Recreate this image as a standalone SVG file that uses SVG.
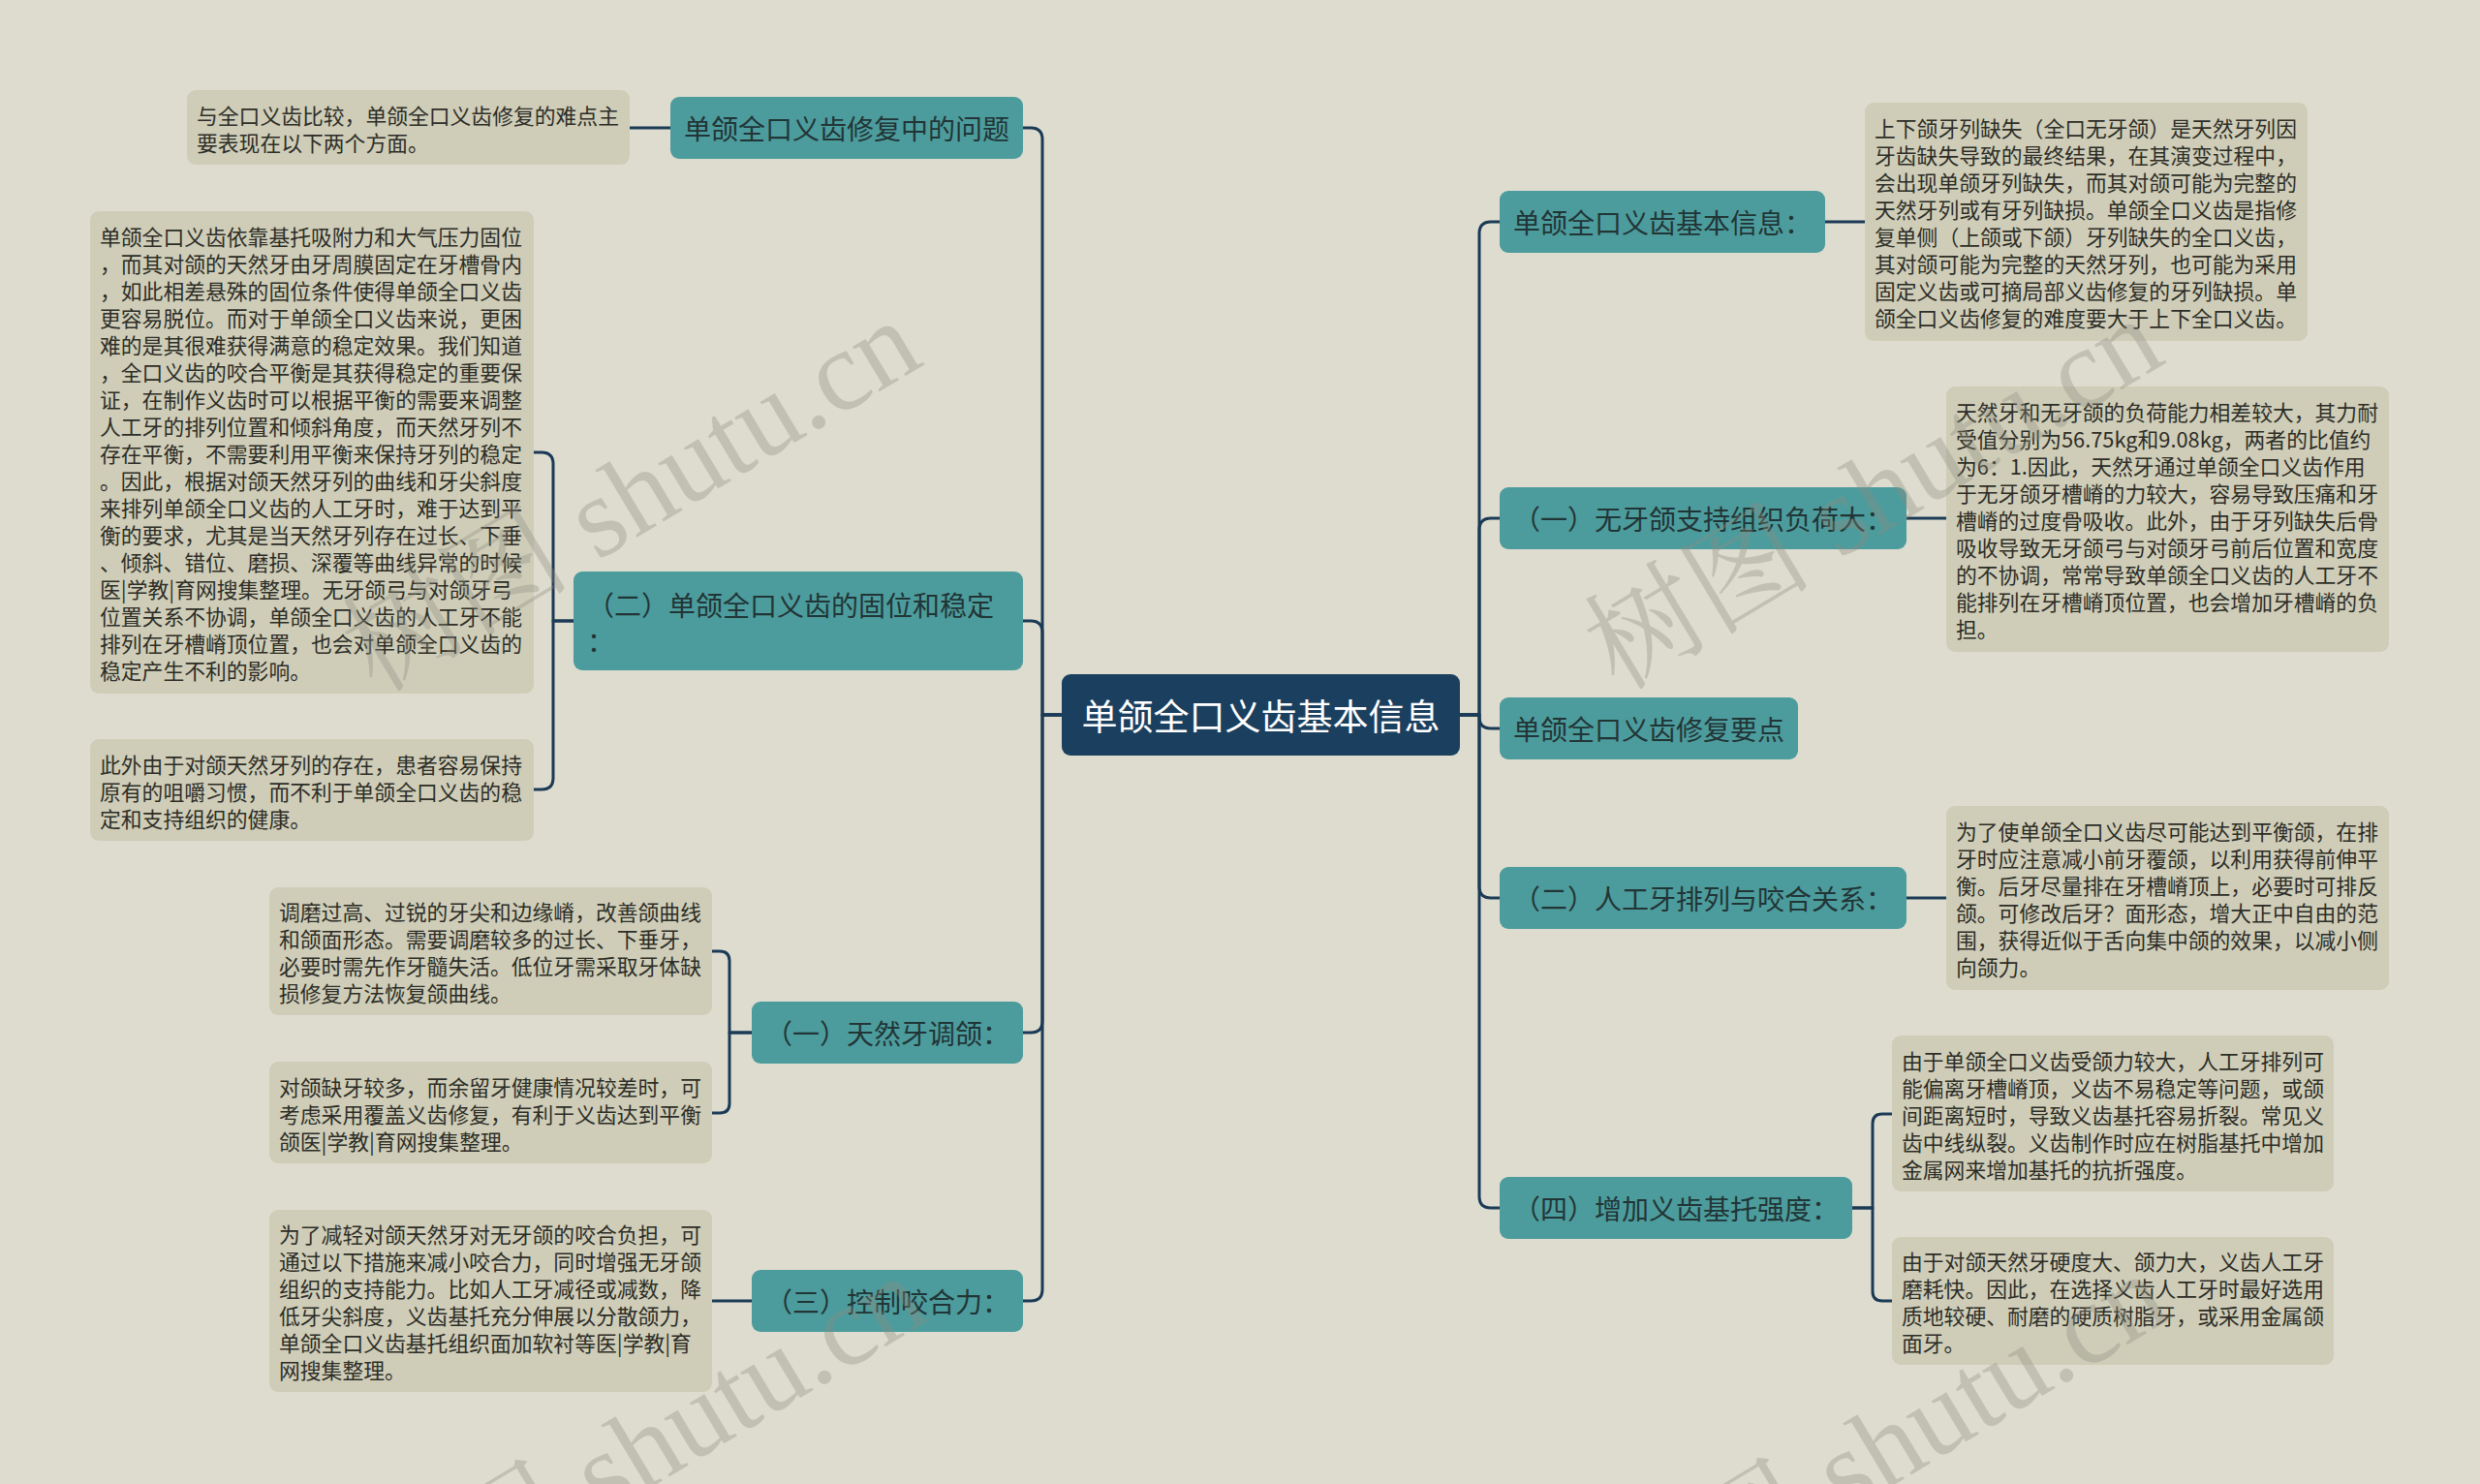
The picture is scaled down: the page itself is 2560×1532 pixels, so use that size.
<svg xmlns="http://www.w3.org/2000/svg" width="2560" height="1532" viewBox="0 0 2560 1532">
<style>
.bg{fill:#dedccf}
.box{fill:#cfcdb8}
.node{fill:#4d9c9d}
.center{fill:#1b405f}
.conn{fill:none;stroke:#1b3a56;stroke-width:3;stroke-linecap:round;stroke-linejoin:round}
.d{font-family:"Noto Sans CJK SC","Noto Sans",sans-serif;font-size:21.8px;fill:#2d2d27;dominant-baseline:central}
.n{font-family:"Noto Sans CJK SC","Noto Sans",sans-serif;font-size:28px;fill:#213536;dominant-baseline:central;text-anchor:middle}
.nl{font-family:"Noto Sans CJK SC","Noto Sans",sans-serif;font-size:28px;fill:#213536;dominant-baseline:central}
.c{font-family:"Noto Sans CJK SC","Noto Sans",sans-serif;font-size:37px;fill:#ffffff;dominant-baseline:central;text-anchor:middle}
.wm{font-family:"Liberation Serif","Noto Serif CJK SC","Noto Sans CJK SC",serif;font-size:118px;fill:#8c8b7e;fill-opacity:0.35;dominant-baseline:central;text-anchor:middle}
</style>
<rect class="bg" x="0" y="0" width="2560" height="1532"/>

<g id="connectors">
<path class="conn" d="M1096,738 H1076 V144 Q1076,132 1064,132 H1056"/>
<path class="conn" d="M1096,738 H1076 V653 Q1076,641 1064,641 H1056"/>
<path class="conn" d="M1096,738 H1076 V1054 Q1076,1066 1064,1066 H1056"/>
<path class="conn" d="M1096,738 H1076 V1331 Q1076,1343 1064,1343 H1056"/>
<path class="conn" d="M1507,738 H1527 V241 Q1527,229 1539,229 H1548"/>
<path class="conn" d="M1507,738 H1527 V547 Q1527,535 1539,535 H1548"/>
<path class="conn" d="M1507,738 H1527 V740 Q1527,752 1539,752 H1548"/>
<path class="conn" d="M1507,738 H1527 V915 Q1527,927 1539,927 H1548"/>
<path class="conn" d="M1507,738 H1527 V1235 Q1527,1247 1539,1247 H1548"/>
<path class="conn" d="M692,132 H650"/>
<path class="conn" d="M592,641 H571 V479 Q571,467 559,467 H551"/>
<path class="conn" d="M592,641 H571 V803 Q571,815 559,815 H551"/>
<path class="conn" d="M776,1066 H753 V992 Q753,982 743,982 H735"/>
<path class="conn" d="M776,1066 H753 V1139 Q753,1149 743,1149 H735"/>
<path class="conn" d="M776,1343 H735"/>
<path class="conn" d="M1884,229 H1925"/>
<path class="conn" d="M1968,535 H2009"/>
<path class="conn" d="M1968,927 H2009"/>
<path class="conn" d="M1912,1247 H1933 V1160 Q1933,1150 1943,1150 H1953"/>
<path class="conn" d="M1912,1247 H1933 V1333 Q1933,1343 1943,1343 H1953"/>
</g>

<g id="root">
<rect class="center" x="1096" y="696" width="411" height="84" rx="9"/>
<text class="c" x="1301.5" y="738">单颌全口义齿基本信息</text>
</g>

<g id="n-problem">
<rect class="node" x="692" y="100" width="364" height="64" rx="9"/>
<text class="n" x="874" y="132">单颌全口义齿修复中的问题</text>
</g>
<g id="d-problem">
<rect class="box" x="193" y="93" width="457" height="77" rx="9"/>
<text class="d"><tspan x="203" y="117.5">与全口义齿比较，单颌全口义齿修复的难点主</tspan><tspan x="203" y="145.5">要表现在以下两个方面。</tspan></text>
</g>

<g id="n-stable">
<rect class="node" x="592" y="590" width="464" height="102" rx="9"/>
<text class="nl"><tspan x="606" y="624">（二）单颌全口义齿的固位和稳定</tspan><tspan x="606" y="661">：</tspan></text>
</g>
<g id="d-stable-1">
<rect class="box" x="93" y="218" width="458" height="498" rx="9"/>
<text class="d"><tspan x="103" y="243">单颌全口义齿依靠基托吸附力和大气压力固位</tspan><tspan x="103" y="271">，而其对颌的天然牙由牙周膜固定在牙槽骨内</tspan><tspan x="103" y="299">，如此相差悬殊的固位条件使得单颌全口义齿</tspan><tspan x="103" y="327">更容易脱位。而对于单颌全口义齿来说，更困</tspan><tspan x="103" y="355">难的是其很难获得满意的稳定效果。我们知道</tspan><tspan x="103" y="383">，全口义齿的咬合平衡是其获得稳定的重要保</tspan><tspan x="103" y="411">证，在制作义齿时可以根据平衡的需要来调整</tspan><tspan x="103" y="439">人工牙的排列位置和倾斜角度，而天然牙列不</tspan><tspan x="103" y="467">存在平衡，不需要利用平衡来保持牙列的稳定</tspan><tspan x="103" y="495">。因此，根据对颌天然牙列的曲线和牙尖斜度</tspan><tspan x="103" y="523">来排列单颌全口义齿的人工牙时，难于达到平</tspan><tspan x="103" y="551">衡的要求，尤其是当天然牙列存在过长、下垂</tspan><tspan x="103" y="579">、倾斜、错位、磨损、深覆等曲线异常的时候</tspan><tspan x="103" y="607">医|学教|育网搜集整理。无牙颌弓与对颌牙弓</tspan><tspan x="103" y="635">位置关系不协调，单颌全口义齿的人工牙不能</tspan><tspan x="103" y="663">排列在牙槽嵴顶位置，也会对单颌全口义齿的</tspan><tspan x="103" y="691">稳定产生不利的影响。</tspan></text>
</g>
<g id="d-stable-2">
<rect class="box" x="93" y="763" width="458" height="105" rx="9"/>
<text class="d"><tspan x="103" y="787.5">此外由于对颌天然牙列的存在，患者容易保持</tspan><tspan x="103" y="815.5">原有的咀嚼习惯，而不利于单颌全口义齿的稳</tspan><tspan x="103" y="843.5">定和支持组织的健康。</tspan></text>
</g>

<g id="n-natural">
<rect class="node" x="776" y="1034" width="280" height="64" rx="9"/>
<text class="n" x="916" y="1066">（一）天然牙调颌：</text>
</g>
<g id="d-natural-1">
<rect class="box" x="278" y="916" width="457" height="132" rx="9"/>
<text class="d"><tspan x="288" y="940">调磨过高、过锐的牙尖和边缘嵴，改善颌曲线</tspan><tspan x="288" y="968">和颌面形态。需要调磨较多的过长、下垂牙，</tspan><tspan x="288" y="996">必要时需先作牙髓失活。低位牙需采取牙体缺</tspan><tspan x="288" y="1024">损修复方法恢复颌曲线。</tspan></text>
</g>
<g id="d-natural-2">
<rect class="box" x="278" y="1096" width="457" height="105" rx="9"/>
<text class="d"><tspan x="288" y="1120.5">对颌缺牙较多，而余留牙健康情况较差时，可</tspan><tspan x="288" y="1148.5">考虑采用覆盖义齿修复，有利于义齿达到平衡</tspan><tspan x="288" y="1176.5">颌医|学教|育网搜集整理。</tspan></text>
</g>

<g id="n-force">
<rect class="node" x="776" y="1311" width="280" height="64" rx="9"/>
<text class="n" x="916" y="1343">（三）控制咬合力：</text>
</g>
<g id="d-force">
<rect class="box" x="278" y="1249" width="457" height="188" rx="9"/>
<text class="d"><tspan x="288" y="1273">为了减轻对颌天然牙对无牙颌的咬合负担，可</tspan><tspan x="288" y="1301">通过以下措施来减小咬合力，同时增强无牙颌</tspan><tspan x="288" y="1329">组织的支持能力。比如人工牙减径或减数，降</tspan><tspan x="288" y="1357">低牙尖斜度，义齿基托充分伸展以分散颌力，</tspan><tspan x="288" y="1385">单颌全口义齿基托组织面加软衬等医|学教|育</tspan><tspan x="288" y="1413">网搜集整理。</tspan></text>
</g>

<g id="n-basic">
<rect class="node" x="1548" y="197" width="336" height="64" rx="9"/>
<text class="n" x="1716" y="229">单颌全口义齿基本信息：</text>
</g>
<g id="d-basic">
<rect class="box" x="1925" y="106" width="457" height="246" rx="9"/>
<text class="d"><tspan x="1935" y="131">上下颌牙列缺失（全口无牙颌）是天然牙列因</tspan><tspan x="1935" y="159">牙齿缺失导致的最终结果，在其演变过程中，</tspan><tspan x="1935" y="187">会出现单颌牙列缺失，而其对颌可能为完整的</tspan><tspan x="1935" y="215">天然牙列或有牙列缺损。单颌全口义齿是指修</tspan><tspan x="1935" y="243">复单侧（上颌或下颌）牙列缺失的全口义齿，</tspan><tspan x="1935" y="271">其对颌可能为完整的天然牙列，也可能为采用</tspan><tspan x="1935" y="299">固定义齿或可摘局部义齿修复的牙列缺损。单</tspan><tspan x="1935" y="327">颌全口义齿修复的难度要大于上下全口义齿。</tspan></text>
</g>

<g id="n-load">
<rect class="node" x="1548" y="503" width="420" height="64" rx="9"/>
<text class="n" x="1758" y="535">（一）无牙颌支持组织负荷大：</text>
</g>
<g id="d-load">
<rect class="box" x="2009" y="399" width="457" height="274" rx="9"/>
<text class="d"><tspan x="2019" y="424">天然牙和无牙颌的负荷能力相差较大，其力耐</tspan><tspan x="2019" y="452">受值分别为56.75kg和9.08kg，两者的比值约</tspan><tspan x="2019" y="480">为6：1.因此，天然牙通过单颌全口义齿作用</tspan><tspan x="2019" y="508">于无牙颌牙槽嵴的力较大，容易导致压痛和牙</tspan><tspan x="2019" y="536">槽嵴的过度骨吸收。此外，由于牙列缺失后骨</tspan><tspan x="2019" y="564">吸收导致无牙颌弓与对颌牙弓前后位置和宽度</tspan><tspan x="2019" y="592">的不协调，常常导致单颌全口义齿的人工牙不</tspan><tspan x="2019" y="620">能排列在牙槽嵴顶位置，也会增加牙槽嵴的负</tspan><tspan x="2019" y="648">担。</tspan></text>
</g>

<g id="n-key">
<rect class="node" x="1548" y="720" width="308" height="64" rx="9"/>
<text class="n" x="1702" y="752">单颌全口义齿修复要点</text>
</g>

<g id="n-arrange">
<rect class="node" x="1548" y="895" width="420" height="64" rx="9"/>
<text class="n" x="1758" y="927">（二）人工牙排列与咬合关系：</text>
</g>
<g id="d-arrange">
<rect class="box" x="2009" y="832" width="457" height="190" rx="9"/>
<text class="d"><tspan x="2019" y="857">为了使单颌全口义齿尽可能达到平衡颌，在排</tspan><tspan x="2019" y="885">牙时应注意减小前牙覆颌，以利用获得前伸平</tspan><tspan x="2019" y="913">衡。后牙尽量排在牙槽嵴顶上，必要时可排反</tspan><tspan x="2019" y="941">颌。可修改后牙？面形态，增大正中自由的范</tspan><tspan x="2019" y="969">围，获得近似于舌向集中颌的效果，以减小侧</tspan><tspan x="2019" y="997">向颌力。</tspan></text>
</g>

<g id="n-base">
<rect class="node" x="1548" y="1215" width="364" height="64" rx="9"/>
<text class="n" x="1730" y="1247">（四）增加义齿基托强度：</text>
</g>
<g id="d-base-1">
<rect class="box" x="1953" y="1069" width="456" height="161" rx="9"/>
<text class="d"><tspan x="1963" y="1093.5">由于单颌全口义齿受颌力较大，人工牙排列可</tspan><tspan x="1963" y="1121.5">能偏离牙槽嵴顶，义齿不易稳定等问题，或颌</tspan><tspan x="1963" y="1149.5">间距离短时，导致义齿基托容易折裂。常见义</tspan><tspan x="1963" y="1177.5">齿中线纵裂。义齿制作时应在树脂基托中增加</tspan><tspan x="1963" y="1205.5">金属网来增加基托的抗折强度。</tspan></text>
</g>
<g id="d-base-2">
<rect class="box" x="1953" y="1277" width="456" height="132" rx="9"/>
<text class="d"><tspan x="1963" y="1301">由于对颌天然牙硬度大、颌力大，义齿人工牙</tspan><tspan x="1963" y="1329">磨耗快。因此，在选择义齿人工牙时最好选用</tspan><tspan x="1963" y="1357">质地较硬、耐磨的硬质树脂牙，或采用金属颌</tspan><tspan x="1963" y="1385">面牙。</tspan></text>
</g>

<g id="watermarks">
<text class="wm" transform="translate(652,512) rotate(-31)">树图 shutu.cn</text>
<text class="wm" transform="translate(1934,510) rotate(-31)">树图 shutu.cn</text>
<text class="wm" transform="translate(658,1498) rotate(-31)">树图 shutu.cn</text>
<text class="wm" transform="translate(1940,1496) rotate(-31)">树图 shutu.cn</text>
</g>
</svg>
